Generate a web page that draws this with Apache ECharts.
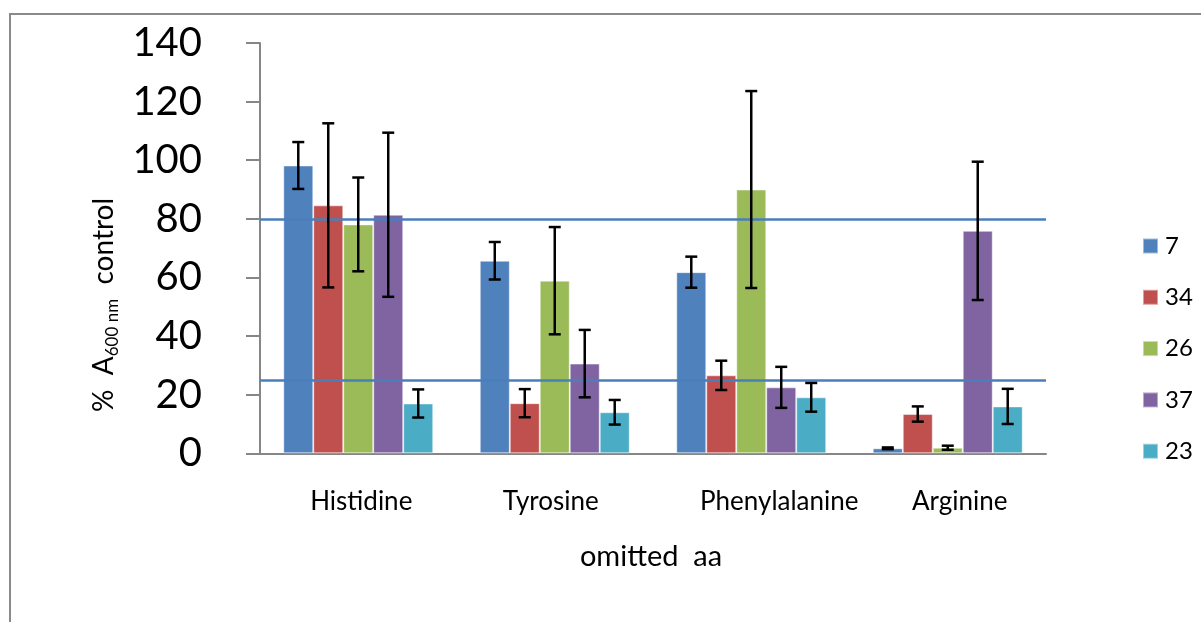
<!DOCTYPE html>
<html>
<head>
<meta charset="utf-8">
<script src="https://cdn.jsdelivr.net/npm/echarts@6/dist/echarts.min.js"></script>
<style>
    html, body { margin: 0; padding: 0; background: #fff; }
    #chart { width: 1201px; height: 622px; }
</style>
</head>
<body>
<div id="chart"></div>
<script>
    // omitted amino acid on the x axis
    var categories = ['Histidine', 'Tyrosine', 'Phenylalanine', 'Arginine'];
    var seriesNames = ['7', '34', '26', '37', '23'];

    // % A600 nm of control, per strain
    var s7  = [98.2, 65.7, 61.8, 1.7];
    var s34 = [84.6, 17.1, 26.6, 13.4];
    var s26 = [78.1, 58.9, 90.0, 1.9];
    var s37 = [81.4, 30.6, 22.5, 75.9];
    var s23 = [17.0, 14.0, 19.1, 16.0];

    // error (+/-) for each bar
    var e7  = [8.0, 6.4, 5.3, 0.3];
    var e34 = [28.0, 4.8, 5.0, 2.6];
    var e26 = [16.0, 18.3, 33.6, 0.7];
    var e37 = [28.0, 11.5, 7.0, 23.6];
    var e23 = [4.8, 4.2, 4.9, 6.0];

    var refLines = [80, 25];
    var yTicks = [0, 140, 20];

    var values = [s7, s34, s26, s37, s23];
    var errors = [e7, e34, e26, e37, e23];
    var colors = ['#4F81BD', '#C0504D', '#9BBB59', '#8064A2', '#4BACC6'];
    var gapRatio = 0.237;

    var seriesData = [];
    seriesNames.forEach(function (n, k) {
        var item = {
            name: n,
            type: 'bar',
            data: values[k],
            barGap: 0,
            barCategoryGap: (gapRatio * 100) + '%',
            itemStyle: {
                color: colors[k],
                borderColor: 'rgba(255,255,255,0.45)',
                borderWidth: 1
            }
        };
        if (k === 0) {
            item.markLine = {
                silent: true,
                symbol: 'none',
                label: { show: false },
                lineStyle: { color: '#4A7EBB', width: 2.5, type: 'solid' },
                data: refLines.map(function (v) { return { yAxis: v }; })
            };
        }
        seriesData.push(item);
    });

    // error bars: [category, seriesIndex, value, error]
    var errData = [];
    errors.forEach(function (arr, k) {
        arr.forEach(function (e, c) {
            errData.push([c, k, values[k][c], e]);
        });
    });

    function renderErr(params, api) {
        var cat = api.value(0), k = api.value(1), v = api.value(2), e = api.value(3);
        var bandW = api.size([1, 0])[0];
        var barW = bandW * (1 - gapRatio) / 5;
        var x = api.coord([cat, 0])[0] + (k - 2) * barW;
        var hi = api.coord([cat, v + e])[1];
        var lo = api.coord([cat, v - e])[1];
        var half = 6;
        var st = { stroke: '#000', lineWidth: 2.5 };
        return {
            type: 'group',
            children: [
                { type: 'line', shape: { x1: x, y1: hi, x2: x, y2: lo }, style: st },
                { type: 'line', shape: { x1: x - half, y1: hi, x2: x + half, y2: hi }, style: st },
                { type: 'line', shape: { x1: x - half, y1: lo, x2: x + half, y2: lo }, style: st }
            ]
        };
    }

    seriesData.push({
        name: 'err',
        type: 'custom',
        renderItem: renderErr,
        encode: { x: 0, y: 2 },
        data: errData,
        z: 5
    });

    // Excel placed some labels a little off centre
    var labelPad = {
        'Histidine': [0, 0, 0, 6],
        'Tyrosine': [0, 8, 0, 0],
        'Phenylalanine': [0, 0, 0, 56],
        'Arginine': [0, 0, 0, 24]
    };
    var rich = {};
    categories.forEach(function (c, i) {
        rich['c' + i] = { fontFamily: 'Lato', fontSize: 26, color: '#000', padding: labelPad[c] };
    });

    var option = {
        animation: false,
        color: colors,
        textStyle: { fontFamily: 'Lato' },
        grid: { left: 260, right: 155, top: 43, bottom: 168.7, containLabel: false },
        legend: {
            data: seriesNames,
            orient: 'vertical',
            left: 1137,
            top: 229,
            icon: 'rect',
            itemWidth: 15,
            itemHeight: 15,
            itemGap: 27.3,
            textStyle: { fontFamily: 'Lato', fontSize: 24, color: '#000', lineHeight: 15, padding: [0, 0, 0, 2] }
        },
        xAxis: {
            type: 'category',
            data: categories,
            axisLine: { lineStyle: { color: '#868686', width: 2 } },
            axisTick: { length: 9, lineStyle: { color: '#868686', width: 2 } },
            axisLabel: {
                margin: 35,
                formatter: function (v) { return '{c' + categories.indexOf(v) + '|' + v + '}'; },
                rich: rich
            }
        },
        yAxis: {
            type: 'value',
            min: yTicks[0],
            max: yTicks[1],
            interval: yTicks[2],
            axisLine: { show: true, lineStyle: { color: '#868686', width: 2 } },
            axisTick: { show: true, length: 14, lineStyle: { color: '#868686', width: 2 } },
            axisLabel: { margin: 58, fontFamily: 'Lato', fontSize: 40, color: '#000' },
            splitLine: { show: false }
        },
        graphic: [
            {
                type: 'rect',
                shape: { x: 10, y: 14, width: 1400, height: 800 },
                style: { fill: 'none', stroke: '#8a8a8a', lineWidth: 2 },
                silent: true
            },
            {
                type: 'text',
                x: 104,
                y: 305,
                rotation: Math.PI / 2,
                style: {
                    text: '{a|%  A}{s|600 nm}{a|  control}',
                    textAlign: 'center',
                    textVerticalAlign: 'middle',
                    rich: {
                        a: { fontFamily: 'Lato', fontSize: 28, color: '#000', lineHeight: 34 },
                        s: { fontFamily: 'Lato', fontSize: 17, color: '#000', lineHeight: 18, verticalAlign: 'bottom' }
                    }
                }
            },
            {
                type: 'text',
                x: 651,
                y: 557,
                style: {
                    text: 'omitted  aa',
                    fontFamily: 'Lato',
                    fontSize: 29,
                    fill: '#000',
                    textAlign: 'center',
                    textVerticalAlign: 'middle'
                }
            }
        ],
        series: seriesData
    };

    var chart = echarts.init(document.getElementById('chart'));
    chart.setOption(option);
</script>
</body>
</html>
